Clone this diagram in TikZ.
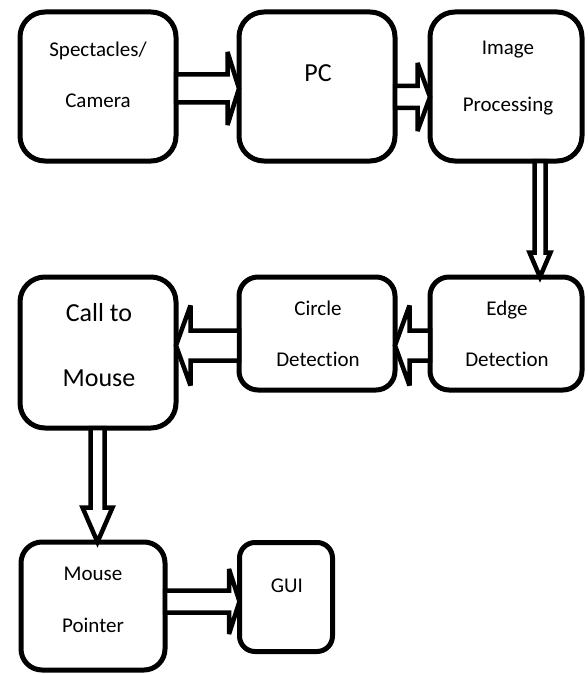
\documentclass[tikz,border=0pt]{standalone}
\usepackage{fontspec}
\setmainfont{Carlito}[Ligatures=NoCommon]
\usetikzlibrary{calc}
\tikzset{
  box/.style={draw, line width=5pt, fill=white, rectangle, inner sep=0pt, outer sep=0pt},
  blk/.style={draw, line width=4.5pt, fill=white, line join=miter, miter limit=3},
  small/.style={font=\fontsize{21}{25}\selectfont, anchor=base, inner sep=0pt},
  big/.style={font=\fontsize{26}{30}\selectfont, anchor=base, inner sep=0pt},
}
% block arrows: #1 from node, #2 to node, #3 offset, #4 shaft half, #5 head half, #6 head length
\newcommand\blkR[6]{\draw[blk] let \p1=($(#1.east)+(0,#3)$), \p2=(#2.west) in
  (\x1,\y1+#4pt) -- (\x2-#6pt,\y1+#4pt) -- (\x2-#6pt,\y1+#5pt) -- (\x2,\y1) --
  (\x2-#6pt,\y1-#5pt) -- (\x2-#6pt,\y1-#4pt) -- (\x1,\y1-#4pt) -- cycle;}
\newcommand\blkL[6]{\draw[blk] let \p1=($(#1.west)+(0,#3)$), \p2=(#2.east) in
  (\x1,\y1+#4pt) -- (\x2+#6pt,\y1+#4pt) -- (\x2+#6pt,\y1+#5pt) -- (\x2,\y1) --
  (\x2+#6pt,\y1-#5pt) -- (\x2+#6pt,\y1-#4pt) -- (\x1,\y1-#4pt) -- cycle;}
\newcommand\blkD[6]{\draw[blk] let \p1=($(#1.south)+(#3,0)$), \p2=(#2.north) in
  (\x1-#4pt,\y1) -- (\x1-#4pt,\y2+#6pt) -- (\x1-#5pt,\y2+#6pt) -- (\x1,\y2) --
  (\x1+#5pt,\y2+#6pt) -- (\x1+#4pt,\y2+#6pt) -- (\x1+#4pt,\y1) -- cycle;}
\begin{document}
\begin{tikzpicture}[x=1pt,y=-1pt]
\useasboundingbox (0,0) rectangle (587,674);
% boxes
\node[box, minimum width=156pt, minimum height=149pt, rounded corners=25pt] (cam) at (98,86.5) {};
\node[box, minimum width=156pt, minimum height=149pt, rounded corners=25pt] (pc) at (317,86.5) {};
\node[box, minimum width=152pt, minimum height=149pt, rounded corners=25pt] (ip) at (506,86.5) {};
\node[box, minimum width=152pt, minimum height=113pt, rounded corners=19pt] (edge) at (506,333.5) {};
\node[box, minimum width=156pt, minimum height=113pt, rounded corners=19pt] (circ) at (317,333.5) {};
\node[box, minimum width=156pt, minimum height=151pt, rounded corners=25pt] (ctm) at (98,352.5) {};
\node[box, minimum width=144pt, minimum height=128pt, rounded corners=21pt] (mp) at (93,606) {};
\node[box, minimum width=93pt, minimum height=109pt, rounded corners=15.5pt] (gui) at (286,597) {};
% arrows
\blkR{cam}{pc}{2}{14}{36.5}{11.5}
\blkR{pc}{ip}{10.5}{11}{34}{12.5}
\blkD{ip}{edge}{34}{5.5}{10.5}{24.5}
\blkL{edge}{circ}{12}{15}{40}{14.5}
\blkL{circ}{ctm}{12}{15}{40}{14.5}
\blkD{ctm}{mp}{-0.5}{7}{15}{34.5}
\blkR{mp}{gui}{-4.5}{11}{32.5}{10.5}
% texts
\node[small] (t1) at (98,57) {Spectacles/};
\node[small] (t2) at (98,108) {Camera};
\node[big] (t3) at (318,82) {PC};
\node[small] (t4) at (508,55) {Image};
\node[small] (t5) at (508,111) {Processing};
\node[small] (t6) at (507,315) {Edge};
\node[small] (t7) at (507,366) {Detection};
\node[small] (t8) at (318,315) {Circle};
\node[small] (t9) at (318,366) {Detection};
\node[big] (t10) at (99,321) {Call to};
\node[big] (t11) at (99,386) {Mouse};
\node[small] (t12) at (93,580) {Mouse};
\node[small] (t13) at (93,632) {Pointer};
\node[small] (t14) at (287,592) {GUI};
\end{tikzpicture}
\end{document}
